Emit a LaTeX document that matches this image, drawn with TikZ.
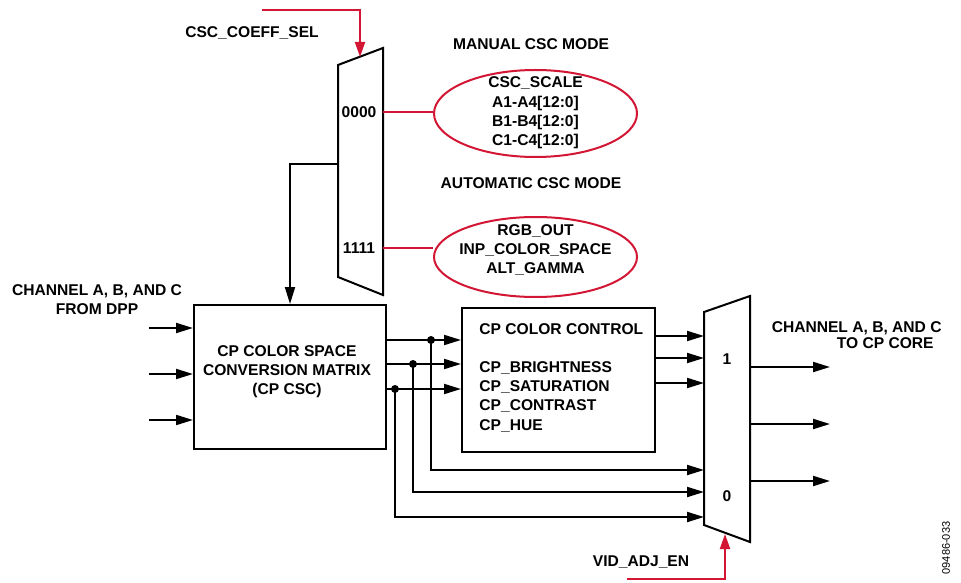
\documentclass[tikz,border=0pt]{standalone}
\usepackage{fontspec}
\setmainfont{Liberation Sans}
\usetikzlibrary{arrows.meta,shapes.geometric}
\definecolor{adired}{RGB}{210,22,52}
\begin{document}
\begin{tikzpicture}[x=0.5pt,y=-0.5pt,
  wire/.style={line width=1pt},
  arr/.style={wire,-{Triangle[length=8.5pt,width=5pt]}},
  redwire/.style={line width=1pt,adired},
  redarr/.style={redwire,-{Triangle[length=7.5pt,width=5pt]}},
  lbl/.style={font=\bfseries\fontsize{7.8}{9.5}\selectfont,inner sep=0pt,align=center},
  boxst/.style={draw,line width=1pt,inner sep=0pt,minimum width=96pt,minimum height=72pt},
  ell/.style={draw=adired,line width=1pt,ellipse,inner sep=0pt},
  dot/.style={circle,fill,inner sep=0pt,minimum size=4pt}]
\useasboundingbox (0,0) rectangle (961,582);

% ---- top CSC mux ----
\coordinate (m1tl) at (338,65);
\coordinate (m1tr) at (383,48);
\coordinate (m1br) at (383,295);
\coordinate (m1bl) at (338,277);
\draw[wire] (m1tl) -- (m1tr) -- (m1br) -- (m1bl) -- cycle;
\node[lbl] (l0000) at (359,112) {0000};
\node[lbl] (l1111) at (359,248) {1111};
\coordinate (m1sel) at (360,57);
\coordinate (m1out) at (338,164);
\coordinate (m1in0) at (383,112);
\coordinate (m1in1) at (383,248);

% selector
\node[lbl] (cscsel) at (252,33) {CSC\_COEFF\_SEL};
\coordinate (cscselstart) at (262,10);
\draw[redarr] (cscselstart) -| (m1sel);

% ellipses
\node[lbl] (manual) at (531,44) {MANUAL CSC MODE};
\node[ell,minimum width=101.5pt,minimum height=43.5pt] (e1) at (535.5,113.5) {};
\node[lbl,font=\bfseries\fontsize{7.8}{9.7}\selectfont] (t1) at (535.5,113) {CSC\_SCALE\\A1-A4[12:0]\\B1-B4[12:0]\\C1-C4[12:0]};
\node[lbl] (automatic) at (531,183) {AUTOMATIC CSC MODE};
\node[ell,minimum width=101.5pt,minimum height=40pt] (e2) at (535.5,257) {};
\node[lbl,font=\bfseries\fontsize{7.8}{9.3}\selectfont] (t2) at (535.5,250) {RGB\_OUT\\INP\_COLOR\_SPACE\\ALT\_GAMMA};
\draw[redwire] (m1in0) -- (m1in0 -| e1.west);
\draw[redwire] (m1in1) -- (m1in1 -| e2.west);

% ---- CSC box ----
\node[boxst] (csc) at (290,377) {};
\node[lbl] (csct) at (287,372) {CP COLOR SPACE\\CONVERSION MATRIX\\(CP CSC)};
\draw[arr] (m1out) -| (csc.north);

\node[lbl] (chin) at (97,300) {CHANNEL A, B, AND C\\FROM DPP};
\coordinate (in1) at (149,328);
\coordinate (in2) at (149,374);
\coordinate (in3) at (149,420);
\draw[arr] (in1) -- (in1 -| csc.west);
\draw[arr] (in2) -- (in2 -| csc.west);
\draw[arr] (in3) -- (in3 -| csc.west);

% ---- color control box ----
\node[boxst,minimum width=96.5pt] (ctrl) at (558.5,380) {};
\node[lbl,anchor=west] (ctrlt) at (479,329) {CP COLOR CONTROL};
\node[lbl,anchor=north west,align=left,font=\bfseries\fontsize{7.8}{9.65}\selectfont] (ctrll) at (479,361) {CP\_BRIGHTNESS\\CP\_SATURATION\\CP\_CONTRAST\\CP\_HUE};

\node[dot] (d1) at (431,340) {};
\node[dot] (d2) at (413,364) {};
\node[dot] (d3) at (395,389) {};
\draw[arr] (csc.east |- d1) -- (ctrl.west |- d1);
\draw[arr] (csc.east |- d2) -- (ctrl.west |- d2);
\draw[arr] (csc.east |- d3) -- (ctrl.west |- d3);

% ---- output mux ----
\coordinate (m2tl) at (704,312);
\coordinate (m2tr) at (750,296);
\coordinate (m2br) at (750,542);
\coordinate (m2bl) at (704,525);
\draw[wire] (m2tl) -- (m2tr) -- (m2br) -- (m2bl) -- cycle;
\node[lbl] (l1) at (727,359) {1};
\node[lbl] (l0) at (727,496) {0};
\coordinate (m2i1) at (704,336);
\coordinate (m2i2) at (704,358);
\coordinate (m2i3) at (704,383);
\coordinate (m2i4) at (704,470);
\coordinate (m2i5) at (704,492);
\coordinate (m2i6) at (704,517);
\draw[arr] (ctrl.east |- m2i1) -- (m2i1);
\draw[arr] (ctrl.east |- m2i2) -- (m2i2);
\draw[arr] (ctrl.east |- m2i3) -- (m2i3);
\draw[arr] (d1.center) |- (m2i4);
\draw[arr] (d2.center) |- (m2i5);
\draw[arr] (d3.center) |- (m2i6);

\coordinate (o1) at (750,367);
\coordinate (o2) at (750,424);
\coordinate (o3) at (750,481);
\coordinate (e1o) at (830,367);
\coordinate (e2o) at (830,424);
\coordinate (e3o) at (830,481);
\draw[arr] (o1) -- (e1o);
\draw[arr] (o2) -- (e2o);
\draw[arr] (o3) -- (e3o);
\node[lbl,anchor=east] (chout1) at (942,328) {CHANNEL A, B, AND C};
\node[lbl,anchor=east] (chout2) at (934,343) {TO CP CORE};

% enable
\node[lbl] (vid) at (641,562) {VID\_ADJ\_EN};
\coordinate (vidstart) at (627,579);
\coordinate (m2sel) at (725,534);
\draw[redarr] (vidstart) -| (m2sel);

\node[rotate=90,inner sep=0pt,font=\fontsize{5.5}{6}\selectfont] (fig) at (946,548) {09486-033};
\end{tikzpicture}
\end{document}
